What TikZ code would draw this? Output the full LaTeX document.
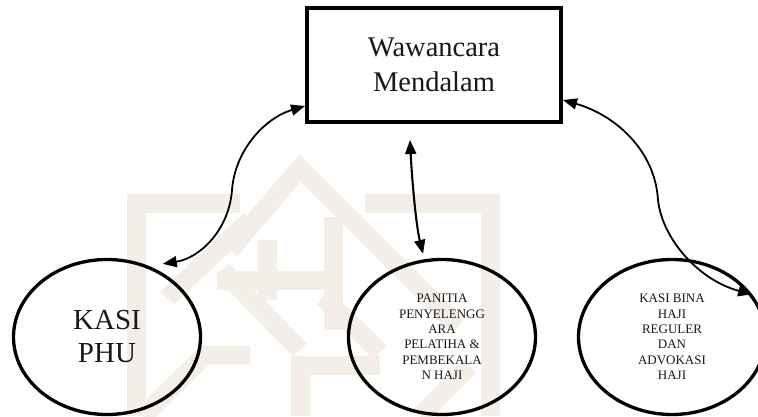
\documentclass[tikz,border=0pt]{standalone}
\usepackage{fontspec}
\setmainfont{Liberation Serif}
\usetikzlibrary{shapes.geometric,arrows.meta,calc}
\definecolor{wmcol}{RGB}{243,239,232}
\begin{document}
\begin{tikzpicture}[x=1pt,y=-1pt,
  wm/.style={line width=19pt, draw=wmcol, line cap=butt, line join=miter},
  topbox/.style={draw, line width=4pt, minimum width=254pt, minimum height=114pt, inner sep=0pt, align=center, font=\fontsize{28.5}{35}\selectfont, text=black!90},
  unit/.style={draw, ellipse, line width=3.3pt, minimum width=187pt, minimum height=155pt, inner sep=0pt, align=center, text=black!90},
  bigtxt/.style={font=\fontsize{29}{33}\selectfont},
  smalltxt/.style={font=\fontsize{13}{15.3}\selectfont},
  link/.style={line width=1.8pt, {Triangle[length=14pt,width=11pt]}-{Triangle[length=14pt,width=11pt]}},
]
\useasboundingbox (0,0) rectangle (758,416);
\clip (0,0) rectangle (758,416);
\fill[white] (0,0) rectangle (758,416);

% watermark (approximate)
\draw[wm] (136,416) -- (136,203) -- (240,203);
\draw[wm] (365,203) -- (490,203) -- (490,416);
\draw[wm] (230,250) -- (300,168) -- (372,240) -- (458,326);
\draw[wm] (167,298) -- (250,220);
\draw[wm] (217,280) -- (343,280);
\draw[wm] (333,217) -- (333,330);
\draw[wm] (267,240) -- (267,300);
\draw[wm] (222,270) -- (300,350);
\draw[wm] (323,297) -- (380,352);
\draw[wm] (143,416) -- (205,355) -- (250,355);
\draw[wm] (300,416) -- (300,365) -- (380,365);
\draw[wm] (420,416) -- (470,366);

% nodes
\node[topbox] (box) at (434,65) {Wawancara\\Mendalam};
\node[unit, bigtxt] (phu) at (107,337) {KASI\\PHU};
\node[unit, smalltxt] (panitia) at (442,337) {PANITIA\\PENYELENGG\\ARA\\PELATIHA \&\\PEMBEKALA\\N HAJI};
\node[unit, smalltxt] (bina) at (672,337) {KASI BINA\\HAJI\\REGULER\\DAN\\ADVOKASI\\HAJI};

% free ends of the middle connector
\coordinate (mtop) at ([xshift=-24pt,yshift=-16pt]box.south);
\coordinate (mbot) at ([xshift=-19pt,yshift=4pt]panitia.north);

% connectors
\draw[link] ([yshift=18pt]box.south west) .. controls (265,118) and (235,150) .. (232,190) .. controls (229,230) and (200,258) .. ([yshift=9pt]phu.49);
\draw[link, line width=2.1pt] (mtop) .. controls (412,180) and (416,225) .. (mbot);
\draw[link] ([yshift=24pt]box.south east) .. controls (615,115) and (655,150) .. (658,200) .. controls (662,238) and (698,280) .. (bina.28);
\end{tikzpicture}
\end{document}
